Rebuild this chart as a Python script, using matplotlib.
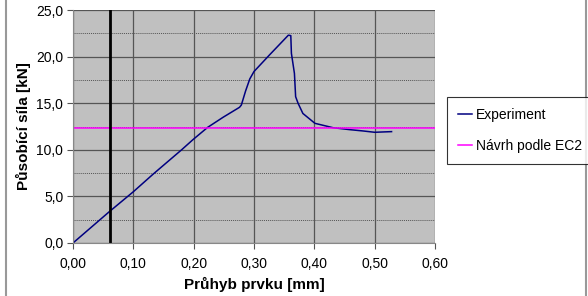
import matplotlib.pyplot as plt
from matplotlib.lines import Line2D
from matplotlib.ticker import FuncFormatter, MultipleLocator

# deflection [mm] vs force [kN]
deflection = [0.000, 0.060, 0.100, 0.133, 0.180, 0.199, 0.223, 0.249, 0.276, 0.279,
              0.286, 0.293, 0.300, 0.326, 0.357, 0.361, 0.362, 0.367, 0.369, 0.373,
              0.381, 0.401, 0.431, 0.459, 0.481, 0.500, 0.528]
force = [0.0, 3.35, 5.5, 7.4, 10.0, 11.1, 12.4, 13.5, 14.56, 14.8,
         16.3, 17.6, 18.4, 20.2, 22.3, 22.25, 20.35, 18.2, 15.7, 15.0,
         13.9, 12.84, 12.37, 12.16, 12.02, 11.88, 11.95]
ec2_design = 12.37        # Návrh podle EC2
marker_x = 0.0614         # black vertical line

plt.rcParams['font.family'] = ['Liberation Sans', 'DejaVu Sans']

fig = plt.figure(figsize=(5.88, 2.96), dpi=100)
ax = fig.add_axes([73 / 588, 1 - 243 / 296, 362 / 588, 233 / 296])
ax.set_facecolor('#C0C0C0')

ax.yaxis.set_minor_locator(MultipleLocator(2.5))
ax.grid(True, which='major', color='#555555', linewidth=0.9)
ax.grid(True, which='minor', axis='y', color='#555555', linewidth=0.7, linestyle=(0, (1, 1)))
ax.set_axisbelow(True)

ax.plot(deflection, force, color='#000080', linewidth=1.1, label='Experiment')
ax.axhline(ec2_design, color='#FF00FF', linewidth=1.1, label='Návrh podle EC2')
ax.axvline(marker_x, color='black', linewidth=2)

ax.set_xlim(0, 0.6)
ax.set_ylim(0, 25)
ax.xaxis.set_major_locator(MultipleLocator(0.1))
ax.yaxis.set_major_locator(MultipleLocator(5))
ax.xaxis.set_major_formatter(FuncFormatter(lambda v, p: f'{v:.2f}'.replace('.', ',')))
ax.yaxis.set_major_formatter(FuncFormatter(lambda v, p: f'{v:.1f}'.replace('.', ',')))
ax.tick_params(which='major', direction='out', length=4, color='#555555', labelsize=10, pad=3)
ax.tick_params(which='minor', length=0)
ax.tick_params(axis='x', pad=6)

for s in ['top', 'right']:
    ax.spines[s].set_visible(False)
for s in ['left', 'bottom']:
    ax.spines[s].set_color('#888888')

ax.set_xlabel('Průhyb prvku [mm]', fontsize=11, fontweight='bold', labelpad=4)
ax.set_ylabel('Působící síla [kN]', fontsize=11, fontweight='bold', labelpad=4)

leg = fig.legend(loc='upper left', bbox_to_anchor=(447 / 588, 1 - 97 / 296),
                 fontsize=10, frameon=True, fancybox=False, edgecolor='black',
                 handlelength=1.0, handletextpad=0.3, borderpad=0.8, labelspacing=1.2,
                 borderaxespad=0)
leg.get_frame().set_linewidth(0.8)

# outer chart border
fig.add_artist(Line2D([5.5 / 588, 5.5 / 588], [0, 1], color='#999999', linewidth=1.5))
fig.add_artist(Line2D([586 / 588, 586 / 588], [0, 1], color='#999999', linewidth=1.5))

fig.savefig('out.png', dpi=100)
